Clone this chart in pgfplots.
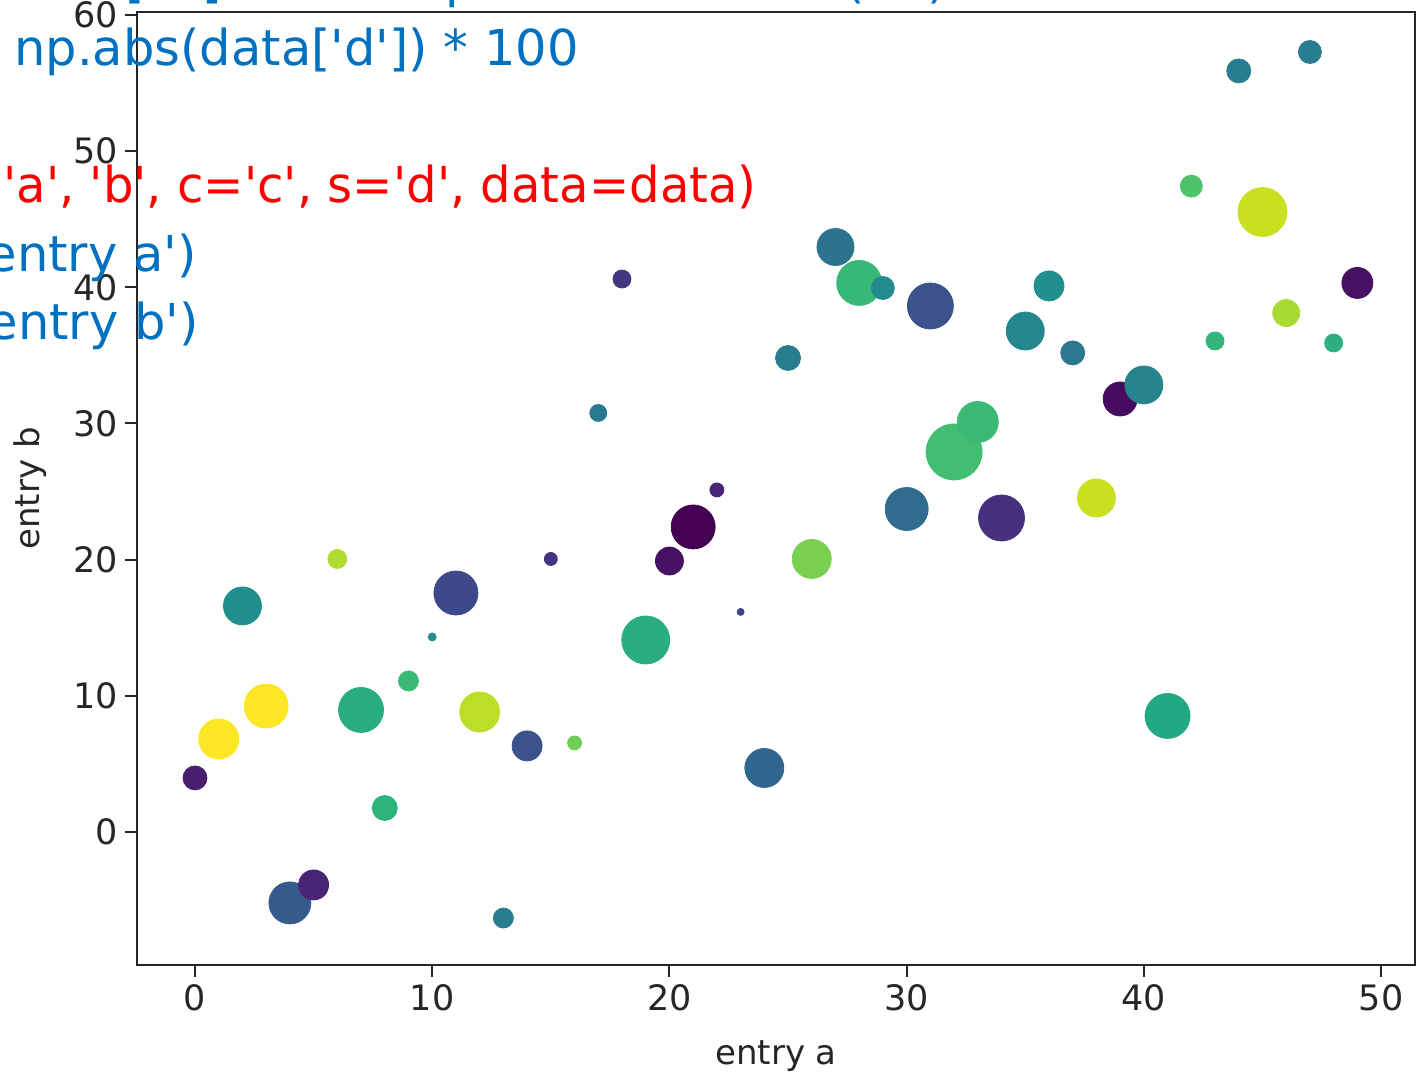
\documentclass[border=0pt]{standalone}
\usepackage{fontspec}
\setmainfont{DejaVu Sans}
\newfontfamily\codefont{DejaVu Sans}[Ligatures=TeXOff]
\usepackage{graphicx}
\usepackage{pgfplots}
\usepackage{pgfplotstable}
\pgfplotsset{compat=1.18}
\definecolor{codeblue}{RGB}{0,112,192}
\definecolor{codered}{RGB}{255,0,0}
\definecolor{axisgray}{RGB}{38,38,38}

% a = entry a, b = entry b, c = colour (0..1 on viridis), r = marker radius in pt
\pgfplotstableread{
a  b      c     r
0  3.97   0.08  6
1  6.83   1.00  10
2  16.60  0.50  9.5
3  9.25   1.00  11
4  -5.21  0.28  10.5
5  -3.89  0.10  7.5
6  20.05  0.88  4.75
7  8.96   0.62  11.25
8  1.76   0.65  6.25
9  11.09  0.68  5
10 14.32  0.50  2
11 17.55  0.22  11
12 8.81   0.90  10
13 -6.32  0.42  5
14 6.32   0.25  7.5
15 20.05  0.15  3.25
16 6.54   0.78  3.5
17 30.77  0.40  4.25
18 40.61  0.16  4.5
19 14.10  0.62  12
20 19.90  0.04  7
21 22.40  0.00  11
22 25.12  0.10  3.5
23 16.16  0.20  1.75
24 4.70   0.33  9.75
25 34.81  0.42  6.25
26 20.05  0.80  9.75
27 42.96  0.38  9.25
28 40.32  0.67  11.25
29 39.95  0.48  5.75
30 23.72  0.35  10.75
31 38.63  0.25  11.5
32 27.91  0.70  14
33 30.11  0.68  10.25
34 23.06  0.14  11.5
35 36.79  0.46  9.5
36 40.10  0.50  7.5
37 35.18  0.40  6
38 24.53  0.92  9.5
39 31.80  0.03  8.5
40 32.83  0.45  9.5
41 8.52   0.60  11.25
42 47.43  0.72  5.5
43 36.06  0.66  4.5
44 55.89  0.42  6
45 45.53  0.92  12.25
46 38.11  0.87  6.75
47 57.28  0.42  5.75
48 35.91  0.64  4.5
49 40.32  0.04  7.75
}\scatterdata

\begin{document}
\begin{tikzpicture}
\path[use as bounding box] (-68.5pt,-53pt) rectangle (643.5pt,482.5pt);
\clip (-68.5pt,-53pt) rectangle (643.5pt,482.5pt);
\begin{axis}[
  at={(0pt,0pt)}, anchor=south west,
  scale only axis, width=639pt, height=476.5pt,
  xmin=-2.445, xmax=51.43, ymin=-9.77, ymax=60.22,
  xtick={0,10,...,50}, ytick={0,10,...,60},
  xtick pos=bottom, ytick pos=left, tick align=outside,
  major tick length=6pt,
  axis line style={line width=1.1pt, axisgray},
  tick style={line width=1pt, axisgray},
  ticklabel style={font=\fontsize{17.5}{20}\selectfont, text=axisgray},
  /pgf/number format/assume math mode=true,
  xlabel={entry a}, ylabel={entry b},
  label style={font=\fontsize{17}{20}\selectfont, text=axisgray},
  xlabel style={at={(axis description cs:0.5,-0.104)}, anchor=base},
  ylabel style={at={(axis description cs:-0.0837,0.5)}, anchor=center},
  colormap/viridis,
  point meta min=0, point meta max=1,
]
\addplot[scatter, only marks, mark=*, point meta=\thisrow{c},
  scatter/use mapped color={draw=mapped color, fill=mapped color},
  visualization depends on={\thisrow{r} \as \rad},
  scatter/@pre marker code/.append style={/tikz/mark size=\rad}]
  table[x=a, y=b] {\scatterdata};
\end{axis}
% code text laid over the screenshot, placed in pixel coordinates
\begin{scope}[x=0.5pt, y=-0.5pt, shift={(-68.5pt,482.5pt)},
  every node/.style={inner sep=0pt, font=\codefont\fontsize{24.75}{30}\selectfont}]
\node[anchor=base west, text=codeblue] at (14,-2.5) {data['a'] + 10 * np.random.randn(50)};
\node[anchor=base west, text=codeblue] at (14,66) {np.abs(data['d']) * 100};
\node[anchor=base west, text=codered] at (3,203) {\scalebox{0.972}[1]{'a', 'b', c='c', s='d', data=data)}};
\node[anchor=base east, text=codeblue] at (197,272) {entry a')};
\node[anchor=base east, text=codeblue] at (199,340) {entry b')};
\end{scope}
\end{tikzpicture}
\end{document}
